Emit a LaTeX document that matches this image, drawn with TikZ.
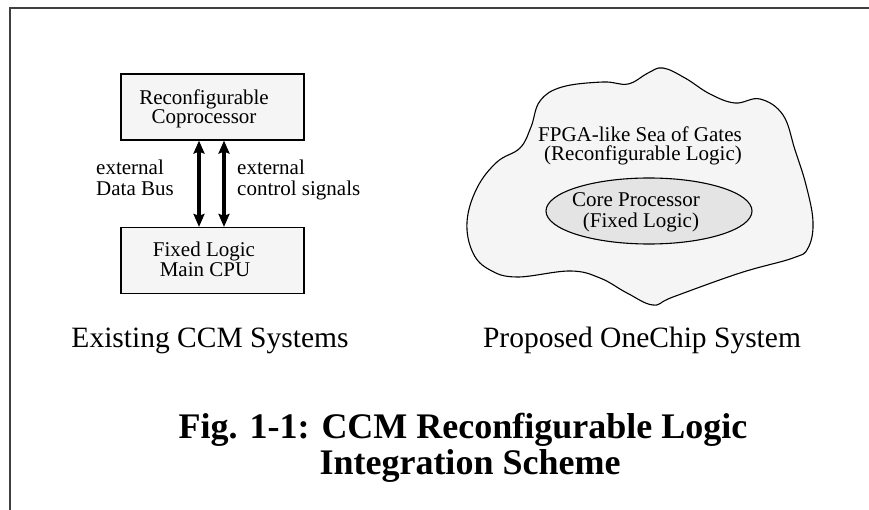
\documentclass[tikz,border=0pt]{standalone}
\usepackage{fontspec}
\setmainfont{Liberation Serif}
\usetikzlibrary{arrows.meta,shapes.geometric}
\definecolor{boxgray}{HTML}{F5F5F5}
\definecolor{coregray}{HTML}{E4E4E4}
\definecolor{framegray}{HTML}{404040}
\begin{document}
\begin{tikzpicture}[x=1pt,y=-1pt,
  boxn/.style={draw=black,line width=1.2pt,fill=boxgray,minimum width=183pt,minimum height=66pt,inner sep=0pt},
  txt/.style={font=\fontsize{21}{20}\selectfont,anchor=base,inner sep=0pt},
  lbl/.style={font=\fontsize{21}{20}\selectfont,anchor=base west,inner sep=0pt},
  captxt/.style={font=\fontsize{29.5}{30}\selectfont,anchor=base,inner sep=0pt},
  ttl/.style={font=\fontsize{36}{33}\selectfont\bfseries,anchor=base,inner sep=0pt},
  bus/.style={line width=4pt,{Stealth[length=13pt,width=11pt,inset=2pt]}-{Stealth[length=13pt,width=11pt,inset=2pt]}}
]
\useasboundingbox (0,0) rectangle (869,510);
% frame
\draw[line width=1.6pt,framegray] (10,510) -- (10,8) -- (869,8);

% left: existing CCM
\node[boxn] (cop) at (212.5,107) {};
\node[boxn] (cpu) at (212.5,260.5) {};
\node[txt] (cop1) at (204,105) {Reconfigurable};
\node[txt] (cop2) at (204,124) {Coprocessor};
\node[txt] (cpu1) at (204,257) {Fixed Logic};
\node[txt] (cpu2) at (205,277) {Main CPU};
\coordinate (xa) at (199,0);
\coordinate (xb) at (224,0);
\draw[bus] (cop.south -| xa) -- (cpu.north -| xa);
\draw[bus] (cop.south -| xb) -- (cpu.north -| xb);
\node[lbl] (l1) at (96,175) {external};
\node[lbl] (l2) at (96,196) {Data Bus};
\node[lbl] (r1) at (237,175) {external};
\node[lbl] (r2) at (237,196) {control signals};
\node[captxt] (capl) at (210,347) {Existing CCM Systems};

% right: OneChip
\draw[line width=1.1pt,fill=boxgray] plot[smooth cycle,tension=0.65] coordinates {
 (540,101) (562,87) (603,82) (628,84) (648,73) (663,68) (685,78) (710,94)
 (735,103) (760,99) (783,115) (795,150) (806,185) (813,222) (808,248)
 (793,258) (740,273) (673,297) (653,305) (627,293) (600,278) (570,271)
 (517,277) (490,270) (473,253) (467,222) (477,188) (497,162) (520,148) (531,127)};
\node[txt] (fp1) at (640,142) {FPGA-like Sea of Gates};
\node[txt] (fp2) at (643,161) {(Reconfigurable Logic)};
\node[ellipse,draw=black,line width=1.1pt,fill=coregray,minimum width=206pt,minimum height=66pt,inner sep=0pt] (core) at (649,211) {};
\node[txt] (co1) at (636,207) {Core Processor};
\node[txt] (co2) at (641,228) {(Fixed Logic)};
\node[captxt] (capr) at (642,347) {Proposed OneChip System};

% title
\node[ttl] (t1) at (463,438) {Fig. 1-1: CCM Reconfigurable Logic};
\node[ttl] (t2) at (470,474) {Integration Scheme};
\end{tikzpicture}
\end{document}
